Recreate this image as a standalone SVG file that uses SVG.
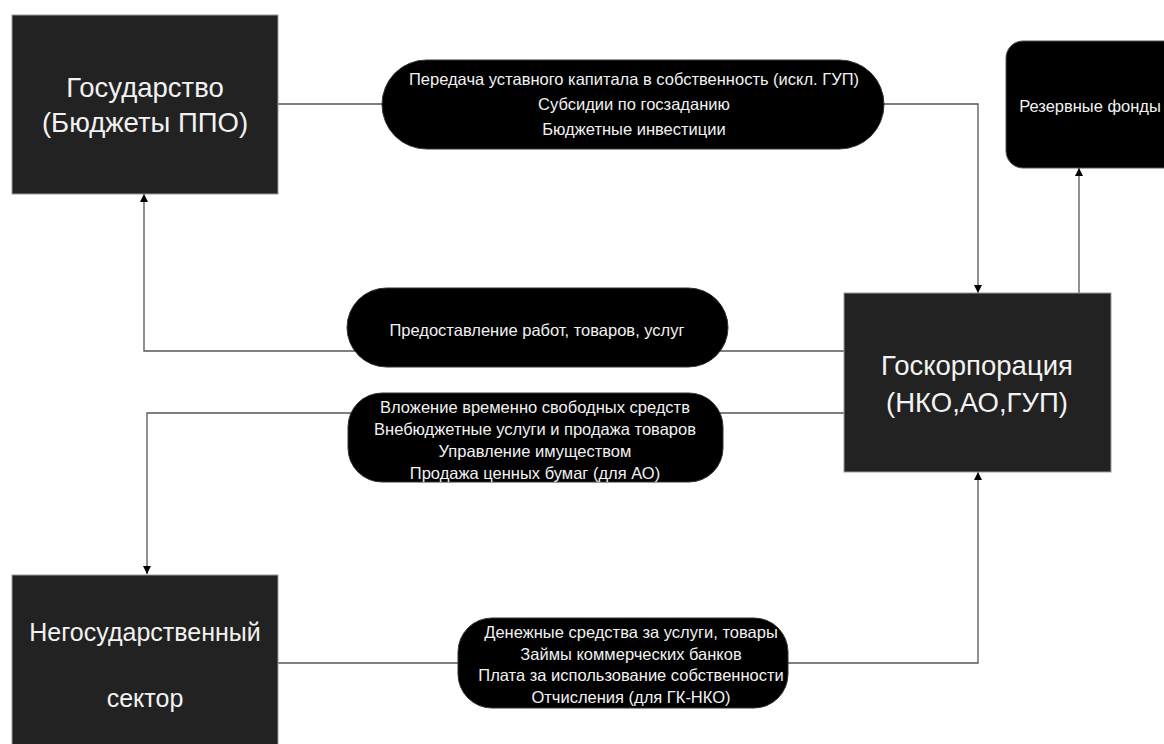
<svg xmlns="http://www.w3.org/2000/svg" width="1164" height="744" viewBox="0 0 1164 744">
<defs>
<marker id="arr" viewBox="0 0 10 10" refX="10" refY="5" markerWidth="8" markerHeight="8" markerUnits="userSpaceOnUse" orient="auto"><path d="M0,0 L10,5 L0,10 z" fill="#000"/></marker>
<style>
.box{fill:#222;stroke:#999;stroke-width:1}
.pill{fill:#000;stroke:#333;stroke-width:1}
.big{font-family:"Liberation Sans",Arial,sans-serif;font-size:27.5px;fill:#f2f2f2;text-anchor:middle;dominant-baseline:central}
.mid{font-family:"Liberation Sans",Arial,sans-serif;font-size:25px;fill:#f2f2f2;text-anchor:middle;dominant-baseline:central}
.sm{font-family:"Liberation Sans",Arial,sans-serif;font-size:16.5px;fill:#f2f2f2;text-anchor:middle;dominant-baseline:central}
.ln{fill:none;stroke:#555;stroke-width:1.3}
</style>
</defs>
<rect width="1164" height="744" fill="#fff"/>
<g id="connectors">
<path class="ln" d="M278,104 H978 V293" marker-end="url(#arr)"/>
<path class="ln" d="M1079,293 V168" marker-end="url(#arr)"/>
<path class="ln" d="M844,351 H144 V194" marker-end="url(#arr)"/>
<path class="ln" d="M844,413 H147 V574" marker-end="url(#arr)"/>
<path class="ln" d="M278,663 H978 V472" marker-end="url(#arr)"/>
</g>
<g id="gosudarstvo">
<rect class="box" x="12" y="15" width="266" height="179"/>
<text class="big" x="145" y="87">Государство</text>
<text class="big" x="145" y="122">(Бюджеты ППО)</text>
</g>
<g id="rezervnye">
<rect x="1006" y="41" width="180" height="127" rx="17" fill="#000" stroke="#555"/>
<text class="sm" x="1090" y="106">Резервные фонды</text>
</g>
<g id="goskorporaciya">
<rect class="box" x="844" y="293" width="267" height="179"/>
<text class="big" x="977" y="365">Госкорпорация</text>
<text class="big" x="977" y="402">(НКО,АО,ГУП)</text>
</g>
<g id="negosudarstvennyi">
<rect class="box" x="12" y="575" width="266" height="180"/>
<text class="mid" x="145" y="632">Негосударственный</text>
<text class="mid" x="145" y="698">сектор</text>
</g>
<g id="pill1">
<rect class="pill" x="382" y="60" width="502" height="89" rx="44.5"/>
<text class="sm" x="634" y="79">Передача уставного капитала в собственность (искл. ГУП)</text>
<text class="sm" x="634" y="104">Субсидии по госзаданию</text>
<text class="sm" x="634" y="129">Бюджетные инвестиции</text>
</g>
<g id="pill2">
<rect class="pill" x="347" y="288" width="381" height="79" rx="39.5"/>
<text class="sm" x="537" y="330">Предоставление работ, товаров, услуг</text>
</g>
<g id="pill3">
<rect class="pill" x="348" y="393" width="375" height="89" rx="34"/>
<text class="sm" x="535" y="407">Вложение временно свободных средств</text>
<text class="sm" x="535" y="429">Внебюджетные услуги и продажа товаров</text>
<text class="sm" x="535" y="451">Управление имуществом</text>
<text class="sm" x="535" y="473">Продажа ценных бумаг (для АО)</text>
</g>
<g id="pill4">
<rect class="pill" x="458" y="618" width="330" height="90" rx="34"/>
<text class="sm" x="631" y="632">Денежные средства за услуги, товары</text>
<text class="sm" x="631" y="654">Займы коммерческих банков</text>
<text class="sm" x="631" y="675">Плата за использование собственности</text>
<text class="sm" x="631" y="697">Отчисления (для ГК-НКО)</text>
</g>
</svg>
